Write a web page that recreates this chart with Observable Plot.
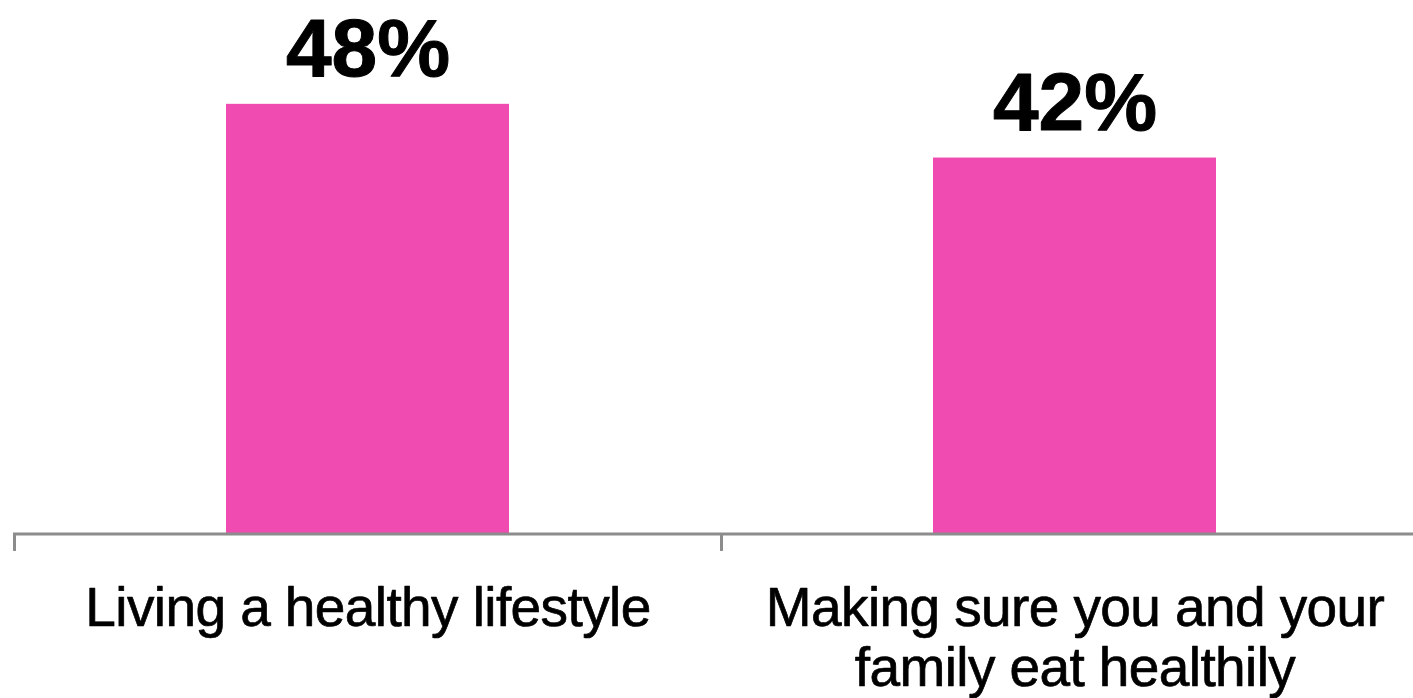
<!DOCTYPE html>
<html>
<head>
<meta charset="utf-8">
<script src="https://cdn.jsdelivr.net/npm/d3@7"></script>
<script src="https://cdn.jsdelivr.net/npm/@observablehq/plot@0.6"></script>
<style>
  html, body { margin: 0; padding: 0; background: #ffffff; }
  #chart svg { display: block; }
  #chart svg g.cat-labels text { letter-spacing: -0.6px; }
</style>
</head>
<body>
<div id="chart"></div>
<script>
const categories = ["Living a healthy lifestyle", "Making sure you and your\nfamily eat healthily"];
const values = [48, 42];
const valueLabels = ["48%", "42%"];

const data = categories.map((c, i) => ({category: c, value: values[i], label: valueLabels[i]}));

const plot = Plot.plot({
  width: 1413,
  height: 698,
  marginLeft: 13,
  marginRight: 0,
  marginTop: 0,
  marginBottom: 164.5,
  style: {fontFamily: "'Liberation Sans', Arial, sans-serif", background: "#ffffff", overflow: "visible"},
  x: {type: "band", domain: categories, range: [14, 1428], padding: 0, axis: null},
  y: {domain: [0, 59.6], axis: null},
  marks: [
    Plot.barY(data, {x: "category", y: "value", fill: "#F04BB0", insetLeft: 212, insetRight: 212}),
    Plot.ruleY([0], {stroke: "#8c8c8c", strokeWidth: 3}),
    Plot.ruleX(categories, {x: d => d, y1: 0, y2: -1.95, dx: -353.5, stroke: "#8c8c8c", strokeWidth: 3}),
    Plot.text(data, {x: "category", y: "value", text: "label", dy: -28, lineAnchor: "bottom", fontSize: 82, fontWeight: "bold", fill: "#000000", stroke: "#000000", strokeWidth: 1}),
    Plot.text(data, {x: "category", y: 0, text: "category", dy: 49, lineAnchor: "top", fontSize: 55, lineHeight: 1.1, fill: "#000000", stroke: "#000000", strokeWidth: 0.7, className: "cat-labels"})
  ]
});
document.getElementById("chart").appendChild(plot);
</script>
</body>
</html>
